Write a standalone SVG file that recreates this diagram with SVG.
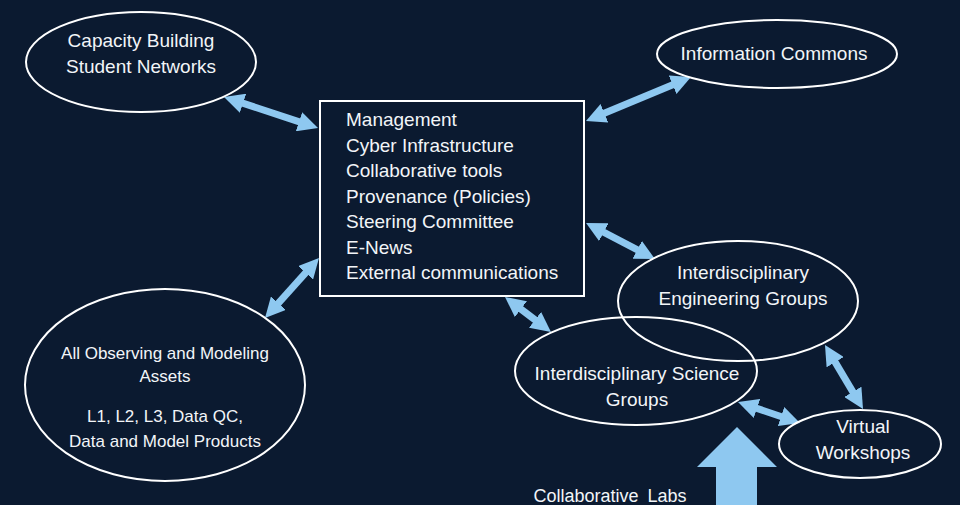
<svg xmlns="http://www.w3.org/2000/svg" width="960" height="505" viewBox="0 0 960 505">
<defs>
<marker id="ah" markerUnits="userSpaceOnUse" markerWidth="20" markerHeight="20" viewBox="0 0 20 20" refX="10" refY="10" orient="auto-start-reverse">
<path d="M0,0 L20,10 L0,20 Z" fill="#8ec8f0"/>
</marker>
<style>
.n{fill:none;stroke:#ffffff;stroke-width:2}
.t{font-family:"Liberation Sans",Arial,sans-serif;font-size:19px;fill:#f2f5f8}
.s{font-size:17px}
.c{text-anchor:middle}
.a{stroke:#8ec8f0;stroke-width:7;fill:none;marker-start:url(#ah);marker-end:url(#ah)}
</style>
</defs>
<rect width="960" height="505" fill="#0b1a30"/>
<g id="connectors">
<line class="a" x1="233.5" y1="100.1" x2="308.5" y2="124.9"/>
<line class="a" x1="595.2" y1="117.1" x2="681.8" y2="80.9"/>
<line class="a" x1="594.9" y1="227.6" x2="646.1" y2="254.4"/>
<line class="a" x1="513" y1="303.1" x2="543" y2="325.9"/>
<line class="a" x1="312.3" y1="265.4" x2="271.7" y2="310.6"/>
<line class="a" x1="830.1" y1="353.6" x2="857.9" y2="400.4"/>
<line class="a" x1="747.5" y1="405.2" x2="790.5" y2="419.8"/>
<polygon points="737,427 777,467 757,467 757,505 716,505 716,467 697,467" fill="#8ec8f0"/>
</g>
<g id="capacity">
<ellipse class="n" cx="141" cy="62" rx="115" ry="50"/>
<text class="t c" x="141" y="47">Capacity Building</text>
<text class="t c" x="141" y="73">Student Networks</text>
</g>
<g id="center">
<rect x="320" y="101" width="264" height="195" fill="#0b1a30" stroke="#ffffff" stroke-width="2"/>
<text class="t" x="346" y="126">Management</text>
<text class="t" x="346" y="152">Cyber Infrastructure</text>
<text class="t" x="346" y="177">Collaborative tools</text>
<text class="t" x="346" y="203">Provenance (Policies)</text>
<text class="t" x="346" y="228">Steering Committee</text>
<text class="t" x="346" y="254">E-News</text>
<text class="t" x="346" y="279">External communications</text>
</g>
<g id="info">
<ellipse class="n" cx="777" cy="54" rx="120" ry="34"/>
<text class="t c" x="774" y="60">Information Commons</text>
</g>
<g id="engineering">
<ellipse class="n" cx="738" cy="301" rx="120" ry="60"/>
<text class="t c" x="743" y="279">Interdisciplinary</text>
<text class="t c" x="743" y="305">Engineering Groups</text>
</g>
<g id="science">
<ellipse class="n" cx="636" cy="371" rx="121" ry="54"/>
<text class="t c" x="637" y="380">Interdisciplinary Science</text>
<text class="t c" x="637" y="406">Groups</text>
</g>
<g id="virtual">
<ellipse class="n" cx="860" cy="444" rx="81" ry="34"/>
<text class="t c" x="863" y="433">Virtual</text>
<text class="t c" x="863" y="459">Workshops</text>
</g>
<g id="assets">
<ellipse class="n" cx="165" cy="385" rx="140" ry="96"/>
<text class="t s c" x="165" y="359">All Observing and Modeling</text>
<text class="t s c" x="165" y="382">Assets</text>
<text class="t s c" x="165" y="422">L1, L2, L3, Data QC,</text>
<text class="t s c" x="165" y="447">Data and Model Products</text>
</g>
<g id="labs">
<text class="t c" x="610" y="502" style="font-size:18px;word-spacing:4px">Collaborative Labs</text>
</g>
</svg>
